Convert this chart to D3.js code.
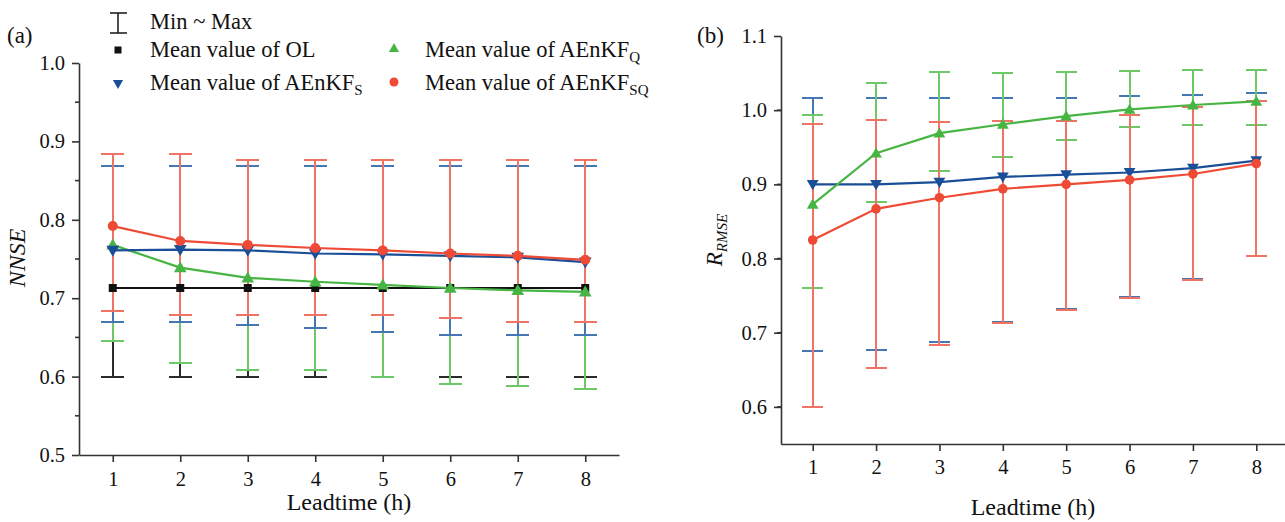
<!DOCTYPE html>
<html><head><meta charset="utf-8">
<script src="https://cdn.jsdelivr.net/npm/d3@7"></script>
<style>body{margin:0;background:#fff}svg{display:block}</style>
</head><body>
<svg id="c" width="1285" height="522"></svg>
<script>
const leadtime = [1,2,3,4,5,6,7,8];
// Panel (a) NNSE
const nnseOLMean = [0.713,0.713,0.713,0.713,0.713,0.713,0.713,0.713];
const nnseOLMin  = [0.599,0.599,0.599,0.599,0.599,0.599,0.599,0.599];
const nnseOLMax  = [0.869,0.869,0.869,0.869,0.869,0.869,0.869,0.869];
const nnseQMean  = [0.768,0.739,0.726,0.721,0.717,0.713,0.710,0.708];
const nnseQMin   = [0.645,0.617,0.608,0.608,0.599,0.591,0.588,0.584];
const nnseQMax   = [0.869,0.869,0.869,0.869,0.869,0.869,0.869,0.869];
const nnseSMean  = [0.761,0.762,0.761,0.757,0.756,0.754,0.752,0.746];
const nnseSMin   = [0.670,0.670,0.666,0.662,0.657,0.653,0.653,0.653];
const nnseSMax   = [0.869,0.869,0.869,0.869,0.869,0.869,0.869,0.869];
const nnseSQMean = [0.792,0.773,0.768,0.764,0.761,0.757,0.754,0.749];
const nnseSQMin  = [0.684,0.679,0.679,0.679,0.679,0.675,0.670,0.670];
const nnseSQMax  = [0.884,0.884,0.876,0.876,0.876,0.876,0.876,0.876];
// Panel (b) R_RMSE
const rmseSMean  = [0.900,0.900,0.903,0.910,0.913,0.916,0.922,0.932];
const rmseSMin   = [0.675,0.677,0.688,0.714,0.732,0.748,0.772,0.804];
const rmseSMax   = [1.016,1.016,1.016,1.016,1.017,1.019,1.021,1.023];
const rmseQMean  = [0.873,0.942,0.969,0.981,0.992,1.001,1.007,1.012];
const rmseQMin   = [0.760,0.876,0.918,0.937,0.960,0.978,0.980,0.980];
const rmseQMax   = [0.994,1.037,1.052,1.050,1.051,1.053,1.054,1.054];
const rmseSQMean = [0.825,0.867,0.882,0.894,0.900,0.906,0.914,0.928];
const rmseSQMin  = [0.600,0.652,0.683,0.713,0.731,0.747,0.771,0.803];
const rmseSQMax  = [0.981,0.987,0.984,0.985,0.985,0.994,1.004,1.013];
const yTicksA = [0.5,0.6,0.7,0.8,0.9,1.0];
const yTicksB = [0.6,0.7,0.8,0.9,1.0,1.1];

const FONT = "'Liberation Serif','Times New Roman','DejaVu Serif',serif";
const COL = {
  OL:{line:"#111111", bar:"#2b2b2b", sym:"square"},
  Q:{line:"#47b543", bar:"#6dc967", sym:"up"},
  S:{line:"#1a4f98", bar:"#4677b5", sym:"down"},
  SQ:{line:"#ee4a35", bar:"#f07363", sym:"circle"}
};

const svg = d3.select("#c").style("font-family", FONT);

function marker(g, type, x, y, color, s){
  if(type==="circle"){
    g.append("circle").attr("cx",x).attr("cy",y).attr("r",s.r).attr("fill",color);
  } else if(type==="square"){
    g.append("rect").attr("x",x-s.sq/2).attr("y",y-s.sq/2).attr("width",s.sq).attr("height",s.sq).attr("fill",color);
  } else {
    const p = d3.symbol(d3.symbolTriangle, s.tri)();
    g.append("path").attr("d",p).attr("fill",color)
      .attr("transform",`translate(${x},${y + (type==="down"? -1:1)})` + (type==="down"?" rotate(180)":""));
  }
}

function panel(cfg){
  const x = d3.scaleLinear().domain([0.5,8.5]).range([cfg.x0,cfg.x1]);
  const y = d3.scaleLinear().domain(cfg.ydom).range([cfg.y0,cfg.y1]);
  const g = svg.append("g");
  // error bars
  cfg.series.forEach(s=>{
    const c = COL[s.key];
    const bg = g.append("g").attr("stroke",c.bar).attr("stroke-width",2).attr("fill","none").attr("shape-rendering","crispEdges");
    leadtime.forEach((t,i)=>{
      const xx = x(t);
      bg.append("line").attr("x1",xx).attr("x2",xx).attr("y1",y(s.min[i])).attr("y2",y(s.max[i]));
      [s.min[i], s.max[i]].forEach(v=>{
        bg.append("line").attr("x1",xx-cfg.cap).attr("x2",xx+cfg.cap).attr("y1",y(v)).attr("y2",y(v));
      });
    });
  });
  // mean lines
  cfg.series.forEach(s=>{
    const c = COL[s.key];
    const line = d3.line().x((d,i)=>x(leadtime[i])).y(d=>y(d));
    g.append("path").datum(s.mean).attr("d",line).attr("fill","none").attr("stroke",c.line).attr("stroke-width",2.2);
    s.mean.forEach((v,i)=>marker(g,c.sym,x(leadtime[i]),y(v),c.line,cfg.ms));
  });
  // axes
  const ax = g.append("g").attr("transform",`translate(0,${cfg.y0})`)
    .call(d3.axisBottom(x).tickValues(leadtime).tickSize(7).tickSizeOuter(0).tickPadding(cfg.xpad).tickFormat(d3.format("d")));
  const ay = g.append("g").attr("transform",`translate(${cfg.x0},0)`)
    .call(d3.axisLeft(y).tickValues(cfg.yticks).tickSize(7).tickSizeOuter(0).tickPadding(7).tickFormat(d3.format(".1f")));
  const minor = d3.range(cfg.ydom[0]+0.05, cfg.ydom[1], 0.1).filter(v=>v>cfg.ydom[0]+1e-6);
  ay.selectAll(".minor").data(minor).enter().append("line").attr("class","minor")
    .attr("x1",0).attr("x2",-4).attr("y1",d=>y(d)).attr("y2",d=>y(d));
  [ax,ay].forEach(a=>{
    a.attr("font-family",null).attr("font-size",null);
    a.selectAll("path,line").attr("stroke","#333").attr("stroke-width",1.6);
    a.selectAll("text").style("font-family",FONT).style("font-size","20.5px").attr("fill","#111");
  });
  g.append("text").attr("x",(cfg.x0+Math.min(cfg.x1,1285))/2).attr("y",cfg.titleY).attr("text-anchor","middle")
    .style("font-family",FONT).style("font-size","24px").attr("fill","#111").text("Leadtime (h)");
  return {x,y,g};
}

panel({x0:79,x1:619,y0:455,y1:63,ydom:[0.5,1.0],yticks:yTicksA,cap:11.5,xpad:9,titleY:510,
  ms:{r:5,sq:8,tri:70},
  series:[
    {key:"OL",mean:nnseOLMean,min:nnseOLMin,max:nnseOLMax},
    {key:"Q",mean:nnseQMean,min:nnseQMin,max:nnseQMax},
    {key:"S",mean:nnseSMean,min:nnseSMin,max:nnseSMax},
    {key:"SQ",mean:nnseSQMean,min:nnseSQMin,max:nnseSQMax}
  ]});
panel({x0:781,x1:1288,y0:444,y1:36,ydom:[0.55,1.1],yticks:yTicksB,cap:10.5,xpad:8,titleY:515,
  ms:{r:4.8,sq:8,tri:60},
  series:[
    {key:"S",mean:rmseSMean,min:rmseSMin,max:rmseSMax},
    {key:"Q",mean:rmseQMean,min:rmseQMin,max:rmseQMax},
    {key:"SQ",mean:rmseSQMean,min:rmseSQMin,max:rmseSQMax}
  ]});

function txt(sel){ return sel.style("font-family",FONT).attr("fill","#111"); }
// panel labels
txt(svg.append("text")).attr("x",7).attr("y",43).style("font-size","23px").text("(a)");
txt(svg.append("text")).attr("x",697).attr("y",43).style("font-size","23px").text("(b)");

// y titles
txt(svg.append("text")).attr("transform","translate(25,258) rotate(-90)").attr("text-anchor","middle")
  .style("font-size","24px").style("font-style","italic").text("NNSE");
const rt = txt(svg.append("text")).attr("transform","translate(722,240) rotate(-90)").attr("text-anchor","middle")
  .style("font-style","italic");
rt.append("tspan").style("font-size","23px").text("R");
rt.append("tspan").style("font-size","15px").attr("dy",5).text("RMSE");

// legend
const lg = svg.append("g");
const lgc = lg.append("g").attr("stroke","#222").attr("stroke-width",1.6);
lgc.append("line").attr("x1",118).attr("x2",118).attr("y1",13).attr("y2",33);
lgc.append("line").attr("x1",110).attr("x2",127).attr("y1",13).attr("y2",13);
lgc.append("line").attr("x1",110).attr("x2",127).attr("y1",33).attr("y2",33);
const legItems = [
  {key:"OL",x:118,y:50,tx:150,ty:57,label:"Mean value of OL",sub:""},
  {key:"S",x:118,y:84,tx:150,ty:90,label:"Mean value of AEnKF",sub:"S"},
  {key:"Q",x:394,y:48,tx:425,ty:57,label:"Mean value of AEnKF",sub:"Q"},
  {key:"SQ",x:394,y:82,tx:425,ty:90,label:"Mean value of AEnKF",sub:"SQ"}
];
txt(lg.append("text")).attr("x",150).attr("y",29).style("font-size","22.5px").text("Min ~ Max");
legItems.forEach(it=>{
  const c = COL[it.key];
  marker(lg,c.sym,it.x,it.y,c.line,{r:4.5,sq:7,tri:45});
  const t = txt(lg.append("text")).attr("x",it.tx).attr("y",it.ty).style("font-size","22.5px");
  t.append("tspan").text(it.label);
  if(it.sub) t.append("tspan").style("font-size","15px").attr("dy",5).text(it.sub);
});
</script>
</body></html>
